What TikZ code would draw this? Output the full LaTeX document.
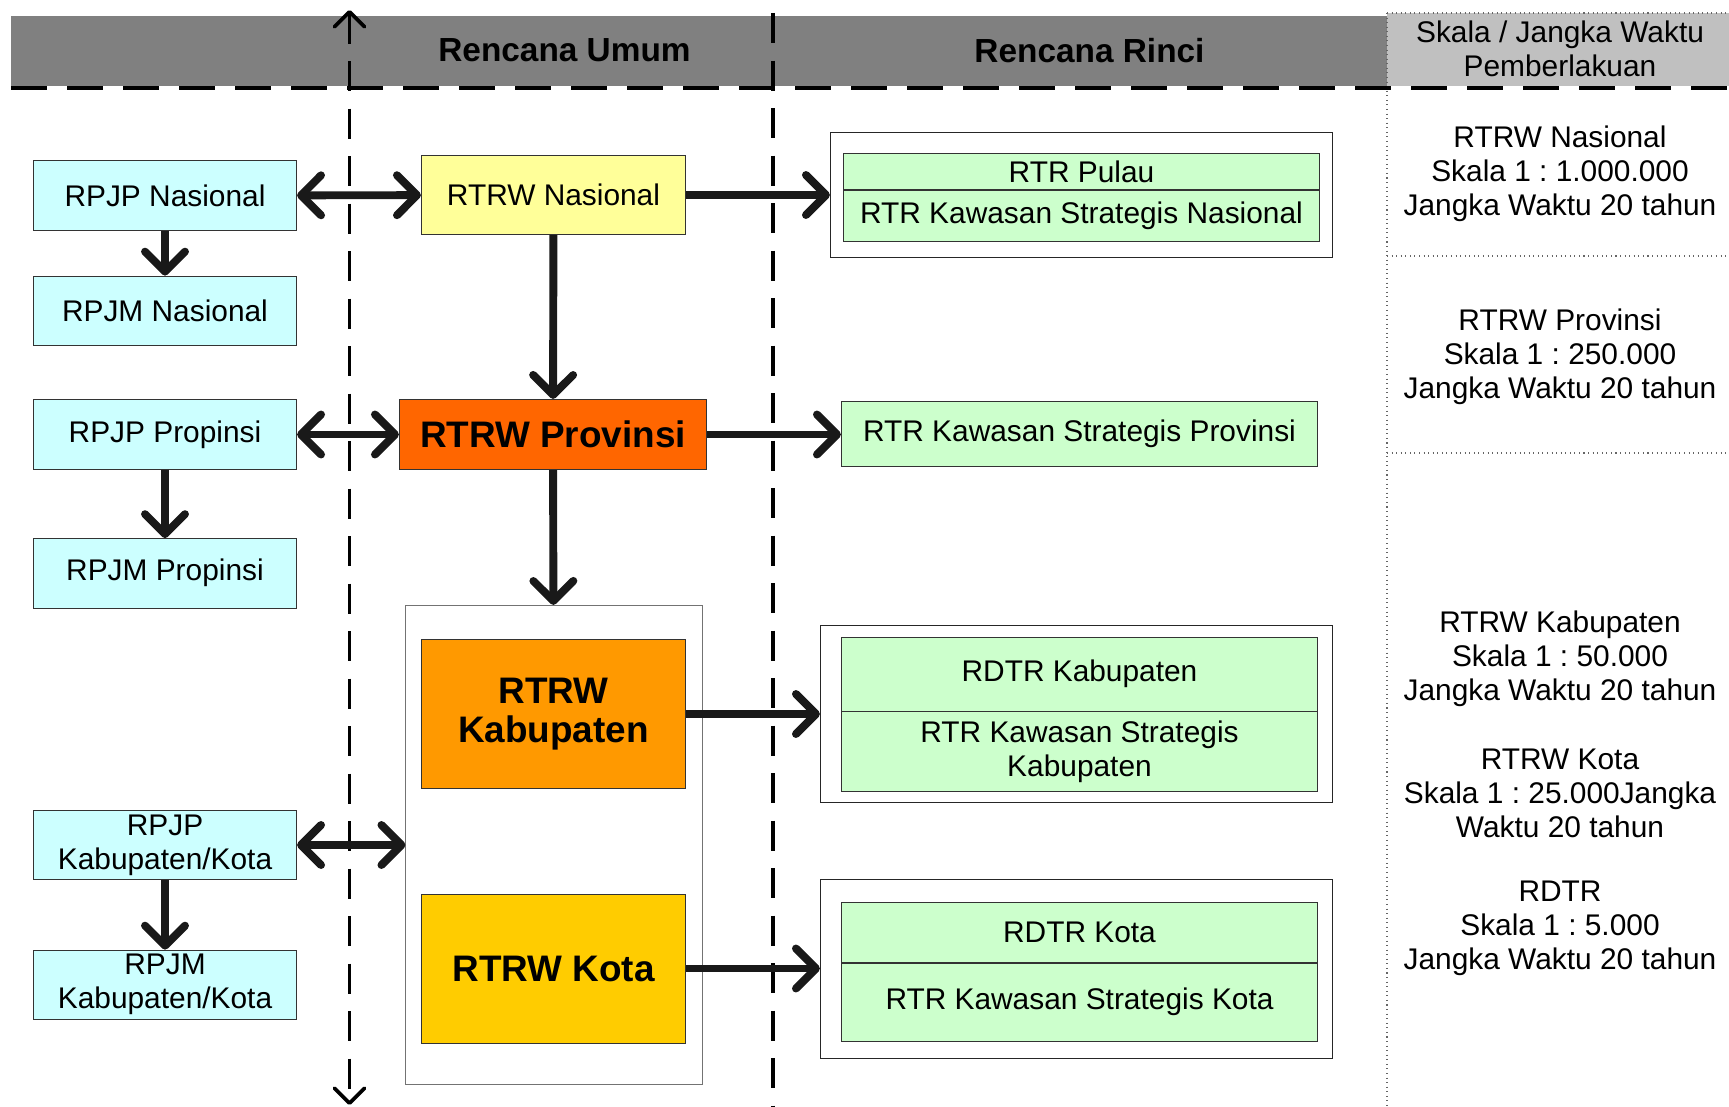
\documentclass[tikz,border=0pt]{standalone}
\usepackage{fontspec}
\setmainfont{Liberation Sans}
\usetikzlibrary{arrows.meta,positioning}
\definecolor{cyanbox}{HTML}{CCFFFF}
\definecolor{greenbox}{HTML}{CCFFCC}
\definecolor{nasbox}{HTML}{FFFF99}
\definecolor{provbox}{HTML}{FF6600}
\definecolor{kabbox}{HTML}{FF9900}
\definecolor{kotabox}{HTML}{FFCC00}
\definecolor{headdark}{HTML}{808080}
\definecolor{headlight}{HTML}{C0C0C0}
\frenchspacing
\newcommand{\txt}{\fontsize{17}{19.3}\selectfont}
\newcommand{\txtbig}{\fontsize{21}{22}\selectfont\bfseries}
\tikzset{
plan/.style={
  rectangle,
  draw=black!80,
  fill=cyanbox,
  minimum width=5.27cm,
  minimum height=1.39cm,
  inner sep=0pt,
  align=center,
  font=\txt},
rtrw/.style={
  rectangle,
  draw=black!80,
  minimum width=5.29cm,
  inner sep=0pt,
  align=center},
cell/.style={
  rectangle,
  draw=black!80,
  fill=greenbox,
  minimum width=9.53cm,
  inner sep=0pt,
  align=center,
  font=\txt},
frame/.style={rectangle, draw=black!85, fill=white, inner sep=0pt},
note/.style={align=center, font=\txt},
head/.style={font=\fontsize{19}{21}\selectfont\bfseries},
barb/.tip={Straight Barb[length=0.4cm, width=0.8cm, round]},
thinbarb/.tip={Straight Barb[length=0.3cm, width=0.6cm, round]},
line/.style={draw, black!90, line width=4.5pt, -barb},
twoway/.style={line, barb-barb},
edge/.style={draw, line width=2.1pt, dash pattern=on 0.6cm off 0.35cm}
}
\begin{document}
\begin{tikzpicture}
    \useasboundingbox (0,0) rectangle (34.58,-22.14);
    % header
    \fill[headdark] (0.22,-0.31) rectangle (27.74,-1.72);
    \fill[headlight] (27.74,-0.26) rectangle (34.58,-1.72);
    \draw[dotted, black!60, line width=0.6pt] (27.74,-0.26) -- (34.58,-0.26);
    \node[head] (umum) at (11.29,-1.01) {Rencana Umum};
    \node[head] (rinci) at (21.79,-1.01) {Rencana Rinci};
    \node[note] (skala) at (31.20,-0.98) {Skala / Jangka Waktu\\Pemberlakuan};
    % column lines
    \coordinate (v1top) at (6.99,-0.20);
    \coordinate (v1bot) at (6.99,-22.10);
    \coordinate (v2top) at (15.46,-0.26);
    \coordinate (v2bot) at (15.46,-22.14);
    \coordinate (htl) at (0.22,-1.76);
    \coordinate (htr) at (34.58,-1.76);
    \coordinate (dtop) at (27.74,-0.26);
    \coordinate (dbot) at (27.74,-22.14);
    \path [edge, thinbarb-thinbarb] (v1top) -- (v1bot);
    \path [edge] (v2top) -- (v2bot);
    \draw[dotted, black!60, line width=0.6pt] (dtop) -- (dbot);
    \draw[dotted, black!60, line width=0.6pt] (27.74,-5.12) -- (34.58,-5.12);
    \draw[dotted, black!60, line width=0.6pt] (27.74,-9.06) -- (34.58,-9.06);
    \draw[line width=2.6pt, dash pattern=on 0.72cm off 0.4cm] (htl) -- (htr);
    % left column
    \node [plan] (rpjpnas) at (3.30,-3.91) {RPJP Nasional};
    \node [plan, below=0.9cm of rpjpnas] (rpjmnas) {RPJM Nasional};
    \node [plan] (rpjpprov) at (3.30,-8.69) {RPJP Propinsi};
    \node [plan, below=1.37cm of rpjpprov] (rpjmprov) {RPJM Propinsi};
    \node [plan] (rpjpkab) at (3.30,-16.90) {RPJP\\Kabupaten/Kota};
    \node [plan, below=1.39cm of rpjpkab] (rpjmkab) {RPJM\\Kabupaten/Kota};
    % middle column
    \node [rtrw, fill=nasbox, minimum height=1.59cm, font=\txt] (rtrwnas) at (11.07,-3.90) {RTRW Nasional};
    \node [rtrw, fill=provbox, minimum width=6.15cm, minimum height=1.41cm, font=\txtbig] (rtrwprov) at (11.06,-8.69) {RTRW Provinsi};
    \node [frame, draw=black!55, minimum width=5.93cm, minimum height=9.59cm] (daerah) at (11.08,-16.90) {};
    \node [rtrw, fill=kabbox, minimum height=2.98cm, font=\txtbig] (rtrwkab) at (11.07,-14.28) {RTRW\\Kabupaten};
    \node [rtrw, fill=kotabox, minimum height=2.98cm, font=\txtbig] (rtrwkota) at (11.07,-19.37) {RTRW Kota};
    % right column
    \node [frame, minimum width=10.05cm, minimum height=2.51cm] (rinci1) at (21.63,-3.90) {};
    \node [cell, minimum height=0.73cm] (pulau) at (21.63,-3.43) {RTR Pulau};
    \node [cell, minimum height=1.01cm, below=0pt of pulau] (ksnas) {RTR Kawasan Strategis Nasional};
    \node [cell, minimum height=1.30cm] (ksprov) at (21.59,-8.68) {RTR Kawasan Strategis Provinsi};
    \node [frame, minimum width=10.25cm, minimum height=3.55cm] (rinci2) at (21.53,-14.28) {};
    \node [cell, minimum height=1.48cm] (rdtrkab) at (21.59,-13.48) {RDTR Kabupaten};
    \node [cell, minimum height=1.59cm, below=0pt of rdtrkab] (kskab) {RTR Kawasan Strategis\\Kabupaten};
    \node [frame, minimum width=10.25cm, minimum height=3.57cm] (rinci3) at (21.53,-19.38) {};
    \node [cell, minimum height=1.19cm] (rdtrkota) at (21.59,-18.65) {RDTR Kota};
    \node [cell, minimum height=1.57cm, below=0pt of rdtrkota] (kskota) {RTR Kawasan Strategis Kota};
    % skala column
    \node [note] (sknas) at (31.20,-3.48) {RTRW Nasional\\Skala 1 : 1.000.000\\Jangka Waktu 20 tahun};
    \node [note] (skprov) at (31.20,-7.14) {RTRW Provinsi\\Skala 1 : 250.000\\Jangka Waktu 20 tahun};
    \node [note] (skkab) at (31.20,-13.18) {RTRW Kabupaten\\Skala 1 : 50.000\\Jangka Waktu 20 tahun};
    \node [note] (skkota) at (31.20,-15.87) {RTRW Kota\\Skala 1 : 25.000Jangka\\Waktu 20 tahun};
    \node [note] (skrdtr) at (31.20,-18.56) {RDTR\\Skala 1 : 5.000\\Jangka Waktu 20 tahun};
    % arrows
    \path [twoway] (rpjpnas) -- (rtrwnas);
    \path [line] (rtrwnas) -- (rinci1);
    \path [line] (rpjpnas) -- (rpjmnas);
    \path [line] (rtrwnas) -- (rtrwprov);
    \path [twoway] (rpjpprov) -- (rtrwprov);
    \path [line] (rtrwprov) -- (ksprov.west |- rtrwprov);
    \path [line] (rpjpprov) -- (rpjmprov);
    \path [line] (rtrwprov) -- (daerah);
    \path [line] (rtrwkab.east) -- (rinci2.west);
    \path [twoway] (rpjpkab) -- (daerah.west);
    \path [line] (rpjpkab) -- (rpjmkab);
    \path [line] (rtrwkota.east) -- (rinci3.west |- rtrwkota.east);
\end{tikzpicture}
\end{document}
